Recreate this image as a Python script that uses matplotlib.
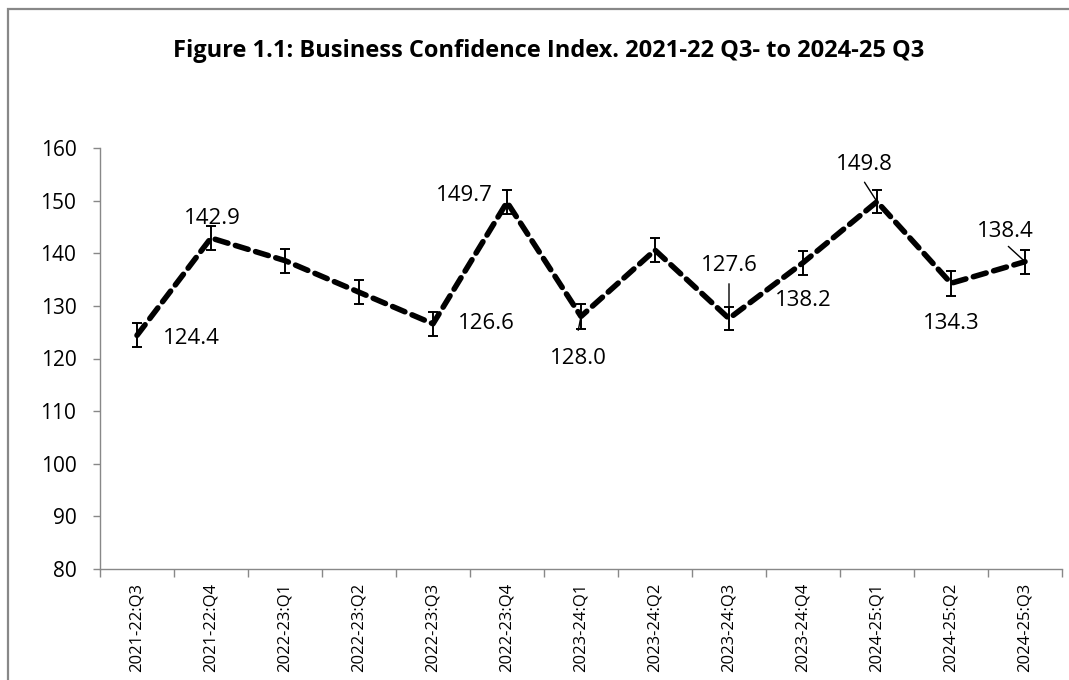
import matplotlib
matplotlib.use("Agg")
import matplotlib.pyplot as plt
import numpy as np

categories = ["2021-22:Q3", "2021-22:Q4", "2022-23:Q1", "2022-23:Q2", "2022-23:Q3",
              "2022-23:Q4", "2023-24:Q1", "2023-24:Q2", "2023-24:Q3", "2023-24:Q4",
              "2024-25:Q1", "2024-25:Q2", "2024-25:Q3"]
values = [124.4, 142.9, 138.6, 132.6, 126.6, 149.7, 128.0, 140.6, 127.6, 138.2, 149.8, 134.3, 138.4]
errors = [2.3, 2.2, 2.3, 2.3, 2.3, 2.3, 2.3, 2.3, 2.2, 2.3, 2.2, 2.4, 2.3]
labelled = [True, True, False, False, True, True, True, False, True, True, True, True, True]
yticks = [80, 90, 100, 110, 120, 130, 140, 150, 160]
title = "Figure 1.1: Business Confidence Index. 2021-22 Q3- to 2024-25 Q3"

plt.rcParams['font.family'] = ['Open Sans', 'DejaVu Sans']

fig = plt.figure(figsize=(10.69, 6.80), dpi=100)
ax = fig.add_axes([100 / 1069, 1 - 569 / 680, 962 / 1069, 421 / 680])

x = np.arange(len(categories))
ax.plot(x, values, color='black', lw=4, ls=(0, (2.4, 1.4)), dash_capstyle='round', zorder=3)
ax.errorbar(x, values, yerr=errors, fmt='none', ecolor='black', elinewidth=1.4,
            capsize=3.5, capthick=1.4, zorder=4)

# label offsets (points) and alignments
offsets = {
    0: (19, -2, 'left', 'center'),
    1: (1, 14, 'center', 'center'),
    4: (18, 0, 'left', 'center'),
    5: (-10, 5, 'right', 'center'),
    6: (-2, -30, 'center', 'center'),
    8: (0, 38, 'center', 'center'),
    9: (0, -27, 'center', 'center'),
    10: (-9, 27, 'center', 'center'),
    11: (0, -29, 'center', 'center'),
    12: (-14, 22, 'center', 'center'),
}
for i, v in enumerate(values):
    if not labelled[i]:
        continue
    dx, dy, ha, va = offsets[i]
    ax.annotate(f"{v:.1f}", (x[i], v), xytext=(dx, dy), textcoords='offset points',
                ha=ha, va=va, fontsize=16, color='black', zorder=5)
# leader lines
leaders = {8: (0, 25), 10: (-9, 14), 12: (-12, 11), 6: (-2, -10)}
for i, (sx, sy) in leaders.items():
    ax.annotate("", (x[i], values[i]), xytext=(sx, sy), textcoords='offset points',
                arrowprops=dict(arrowstyle='-', color='black', lw=1, shrinkA=0, shrinkB=0),
                zorder=5)

ax.set_xlim(-0.5, len(categories) - 0.5)
ax.set_ylim(80, 160)
ax.set_yticks(yticks)
ax.set_yticklabels([str(t) for t in yticks], fontsize=15)
ax.set_xticks(x)
ax.set_xticklabels(categories, rotation=90, fontsize=12)
ax.set_xticks(np.arange(-0.5, len(categories), 1), minor=True)
ax.tick_params(axis='x', which='major', length=0, pad=10)
ax.tick_params(axis='x', which='minor', length=6, color='#888888', width=1)
ax.tick_params(axis='y', length=5, color='#888888', width=1, pad=12)
for s in ['top', 'right']:
    ax.spines[s].set_visible(False)
for s in ['left', 'bottom']:
    ax.spines[s].set_color('#888888')
    ax.spines[s].set_linewidth(1)

fig.text(549 / 1069, 1 - 51 / 680, title, ha='center', va='center', fontsize=17, fontweight='bold')

border = plt.Rectangle((8 / 1069, -0.05), 1.0, 1.05 - 9 / 680, transform=fig.transFigure,
                       fill=False, edgecolor='#888888', lw=1.6)
fig.add_artist(border)

fig.savefig("out.png", dpi=100)
